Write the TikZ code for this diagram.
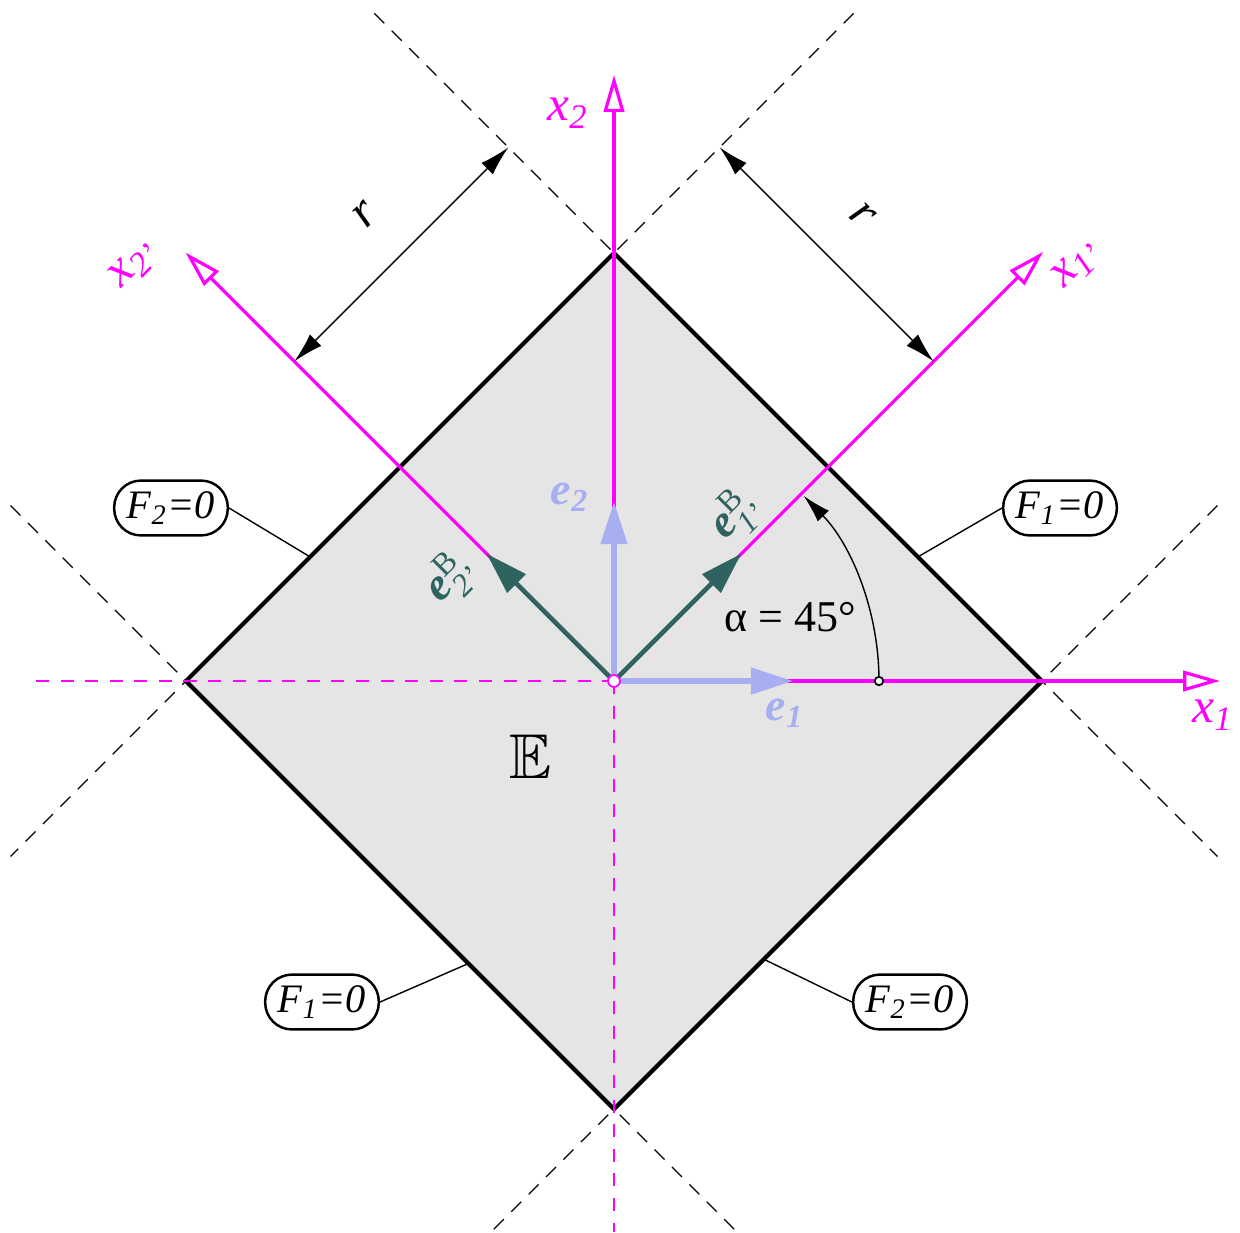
\documentclass[tikz,border=0pt]{standalone}
\usepackage{amsmath,amssymb}
\usepackage{fontspec}
\setmainfont{LiberationSerif}[Extension=.ttf, UprightFont=*-Regular, BoldFont=*-Bold, ItalicFont=*-Italic, BoldItalicFont=*-BoldItalic]
\usetikzlibrary{arrows.meta, positioning, calc}
\definecolor{mag}{RGB}{255,0,255}
\definecolor{lblue}{RGB}{168,174,242}
\definecolor{dteal}{RGB}{47,99,95}
\tikzset{
  axs/.style={mag, line width=0.9pt, -{Triangle[open, length=10.5pt, width=5.8pt]}},
  axd/.style={mag, line width=0.6pt, dash pattern=on 3.7pt off 3.3pt},
  ext/.style={line width=0.35pt, dash pattern=on 4pt off 3pt},
  bvec/.style={lblue, line width=1.5pt, -{Triangle[length=12pt, width=7.4pt]}},
  gvec/.style={dteal, line width=1.3pt, -{Triangle[length=12pt, width=7.2pt]}},
  dim/.style={line width=0.4pt, {Latex[length=8.5pt, width=4.6pt]}-{Latex[length=8.5pt, width=4.6pt]}},
  arcarr/.style={line width=0.4pt, -{Latex[length=8pt, width=4.4pt]}},
  flab/.style={draw, line width=0.7pt, fill=white, rounded corners=7.6pt, minimum width=32.3pt, minimum height=15.6pt, inner sep=1pt, font=\fontsize{11.5}{13}\selectfont\itshape},
  lead/.style={line width=0.4pt},
  axlab/.style={mag, font=\fontsize{14}{16}\selectfont\itshape, inner sep=0pt},
  vlab/.style={font=\fontsize{13}{15}\selectfont, inner sep=0pt},
  dot/.style={circle, fill=white, draw, line width=0.5pt, inner sep=0pt, minimum size=3.4pt}
}

\begin{document}
\begin{tikzpicture}[x=0.01cm, y=0.01cm]
		\useasboundingbox (-614,-551) rectangle (626,681);
		\coordinate (O) at (0,0);
		\coordinate (N) at (0,428);
		\coordinate (S) at (0,-428);
		\coordinate (W) at (-428,0);
		\coordinate (E) at (428,0);
		\coordinate (x1t) at (606,0);
		\coordinate (x2t) at (0,606);
		\coordinate (x1pt) at (45:607);
		\coordinate (x2pt) at (135:606);
		% extended edges
		\draw[ext] ($(N)!-0.56!(E)$) -- ($(E)!-0.41!(N)$);
		\draw[ext] ($(N)!-0.56!(W)$) -- ($(W)!-0.41!(N)$);
		\draw[ext] ($(W)!-0.41!(S)$) -- ($(S)!-0.29!(W)$);
		\draw[ext] ($(E)!-0.41!(S)$) -- ($(S)!-0.29!(E)$);
		% region
		\draw[line width=1.2pt, fill=black!10, line join=miter] (N) -- (E) -- (S) -- (W) -- cycle;
		\node[font=\fontsize{18}{20}\selectfont] (Elab) at (-83,-76) {$\mathbb{E}$};
		% axes
		\draw[axd] (-578,0) -- (O);
		\draw[axd] (O) -- (0,-551);
		\draw[axs] (O) -- (x1t);
		\draw[axs] (O) -- (x2t);
		\draw[axs] (O) -- (x1pt);
		\draw[axs] (O) -- (x2pt);
		\node[axlab] (x1lab) at (599,-34) {x\textsubscript{1}};
		\node[axlab] (x2lab) at (-46,568) {x\textsubscript{2}};
		\node[axlab, rotate=45] (x1plab) at (464,416) {x\textsubscript{1'}};
		\node[axlab, rotate=45] (x2plab) at (-479,416) {x\textsubscript{2'}};
		% dimensions r
		\coordinate (d2a) at (135:452);
		\coordinate (d2b) at ($(d2a)+(45:302.6)$);
		\coordinate (d1a) at (45:452);
		\coordinate (d1b) at ($(d1a)+(135:302.6)$);
		\draw[dim] (d2a) -- (d2b);
		\draw[dim] (d1b) -- (d1a);
		\node[font=\fontsize{14}{16}\selectfont\itshape, rotate=45] (r2lab) at (-249,466) {r};
		\node[font=\fontsize{14}{16}\selectfont\itshape, rotate=-45] (r1lab) at (248,466) {r};
		% angle
		\coordinate (a0) at (265,0);
		\draw[arcarr] (a0) arc[start angle=0, end angle=44.3, radius=2.65cm];
		\node[font=\fontsize{12.5}{14}\selectfont] (alab) at (176,64) {α = 45°};
		% base vectors
		\draw[bvec] (O) -- (179,0);
		\draw[bvec] (O) -- (0,179);
		\draw[gvec] (O) -- (45:180);
		\draw[gvec] (O) -- (135:180);
		\node[dot, draw=mag] (Odot) at (O) {};
		\node[dot, minimum size=2.4pt] (a0dot) at (a0) {};
		\node[vlab, lblue] (e1lab) at (171,-32) {\textbf{\textit{e}}\textsubscript{\textbf{\textit{1}}}};
		\node[vlab, lblue] (e2lab) at (-44,184) {\textbf{\textit{e}}\textsubscript{\textbf{\textit{2}}}};
		\node[vlab, dteal, rotate=45] (e1plab) at (121,166) {\textbf{\textit{e}}$_{\textit{1'}}^{\textup{B}}$};
		\node[vlab, dteal, rotate=45] (e2plab) at (-164,103) {\textbf{\textit{e}}$_{\textit{2'}}^{\textup{B}}$};
		% yield lines
		\node[flab] (f2a) at (-443,173) {F\textsubscript{2}=0};
		\node[flab] (f1a) at (446,173) {F\textsubscript{1}=0};
		\node[flab] (f1b) at (-292,-321) {F\textsubscript{1}=0};
		\node[flab] (f2b) at (296,-321) {F\textsubscript{2}=0};
		\draw[lead] (f2a.east) -- ($(W)!0.29!(N)$);
		\draw[lead] (f1a.west) -- ($(E)!0.29!(N)$);
		\draw[lead] (f1b.east) -- ($(W)!0.66!(S)$);
		\draw[lead] (f2b.west) -- ($(E)!0.65!(S)$);
	\end{tikzpicture}
\end{document}
